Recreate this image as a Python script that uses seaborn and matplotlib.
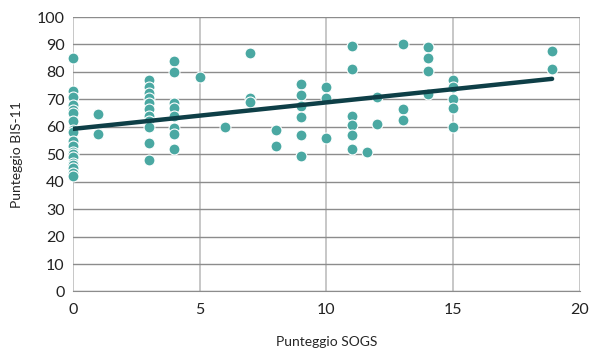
import numpy as np
import pandas as pd
import matplotlib.pyplot as plt
import seaborn as sns

# punteggi SOGS (x) e BIS-11 (y)
sogs = [0]*19 + [1]*2 + [3]*11 + [4]*8 + [5] + [6] + [7]*3 + [8]*2 + [9]*6 + [10]*3 \
    + [11]*6 + [11.6] + [12]*2 + [13]*3 + [14]*4 + [15]*5 + [18.9]*2
bis11 = [85, 73, 71, 68, 66, 65, 62, 59, 58, 55, 53, 51, 50, 49, 47, 46, 45, 43, 42,
         64.5, 57.5,
         77, 74.5, 72.5, 70.5, 68.5, 66.5, 64, 62, 60, 54, 48,
         84, 80, 68.5, 67, 64, 59.5, 57.5, 52,
         78,
         60,
         87, 70.5, 69,
         59, 53,
         75.5, 71.5, 67.5, 63.5, 57, 49.5,
         74.5, 70.5, 56,
         89.5, 81, 64, 60.5, 57, 52,
         51,
         71, 61,
         90, 66.5, 62.5,
         89, 85, 80.5, 72,
         77, 74.5, 70, 67, 60,
         87.5, 81]
df = pd.DataFrame({'SOGS': sogs, 'BIS11': bis11})

sns.set_style("white")
plt.rcParams['font.family'] = ['Lato', 'DejaVu Sans']

fig = plt.figure(figsize=(6.01, 3.48), dpi=100)
ax = fig.add_axes([0.1215, 0.1624, 0.8435, 0.7886])

sns.regplot(data=df, x='SOGS', y='BIS11', ax=ax, ci=None, truncate=True,
            scatter_kws=dict(s=62, color='#4aa8a2', edgecolor='white', linewidths=0.8,
                             alpha=1, zorder=3, clip_on=False),
            line_kws=dict(color='#0e3f47', lw=3.2, zorder=4))

ax.set_xlim(0, 20)
ax.set_ylim(0, 100)
ax.set_xticks(range(0, 21, 5))
ax.set_yticks(range(0, 101, 10))
ax.yaxis.grid(True, color='#8c8c8c', lw=1)
ax.xaxis.grid(True, color='#bdbdbd', lw=1.2)
ax.set_axisbelow(True)
for s in ['top', 'right', 'left']:
    ax.spines[s].set_visible(False)
ax.spines['bottom'].set_color('#8c8c8c')
ax.tick_params(length=0, labelsize=11.5, colors='#222222', pad=8)
ax.tick_params(axis='y', pad=6)

ax.set_xlabel('Punteggio SOGS', fontsize=10, labelpad=14)
ax.set_ylabel('Punteggio BIS-11', fontsize=10, labelpad=10)

fig.savefig('out.png', dpi=100)
